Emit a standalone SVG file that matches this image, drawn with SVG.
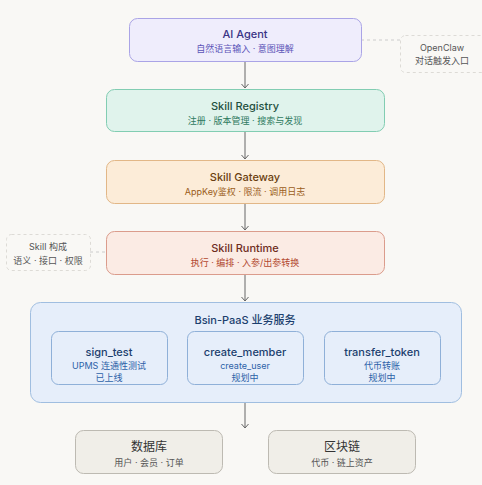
<svg xmlns="http://www.w3.org/2000/svg" width="482" height="485" viewBox="0 0 482 485">
<style>
text{font-family:Inter,"Noto Sans","Noto Sans CJK SC",sans-serif;text-anchor:middle}
.t{font-size:11px;font-weight:500}
.s{font-size:9px}
.n{font-size:9px;fill:#555}
.d{font-size:12px;fill:#333}
.line{stroke:#666;stroke-width:1;fill:none}
.dash{stroke:#ccc;stroke-width:1;fill:none;stroke-dasharray:3 3}
</style>
<defs>
<marker id="ah" markerWidth="10" markerHeight="10" refX="4" refY="5" orient="auto" markerUnits="userSpaceOnUse">
<path d="M0,1.5 L4,5 L0,8.5" fill="none" stroke="#666" stroke-width="1"/>
</marker>
</defs>
<rect width="482" height="485" fill="#f9f8f5"/>
<g id="connectors">
<line class="line" x1="245" y1="61" x2="245" y2="88" marker-end="url(#ah)"/>
<line class="line" x1="245" y1="131" x2="245" y2="159" marker-end="url(#ah)"/>
<line class="line" x1="245" y1="203" x2="245" y2="230" marker-end="url(#ah)"/>
<line class="line" x1="245" y1="274" x2="245" y2="301" marker-end="url(#ah)"/>
<line class="line" x1="245" y1="402" x2="245" y2="428" marker-end="url(#ah)"/>
<line class="dash" x1="361" y1="40" x2="400" y2="40"/>
<line class="dash" x1="90" y1="252" x2="106" y2="252"/>
</g>
<g id="ai-agent">
<rect x="129.5" y="18.5" width="232" height="43" rx="8" fill="#efedfc" stroke="#aaa4e6"/>
<text class="t" x="245" y="38" fill="#3a3485">AI Agent</text>
<text class="s" x="245" y="52" fill="#5b54b8">自然语言输入 · 意图理解</text>
</g>
<g id="openclaw">
<rect x="400.5" y="35.5" width="90" height="37" rx="5" fill="none" stroke="#dddbd6" stroke-dasharray="3 3"/>
<text class="n" x="442" y="51">OpenClaw</text>
<text class="n" x="442" y="64">对话触发入口</text>
</g>
<g id="skill-registry">
<rect x="106.5" y="89.5" width="278" height="42" rx="8" fill="#e0f3ec" stroke="#82cdb2"/>
<text class="t" x="245" y="110" fill="#1f4f40">Skill Registry</text>
<text class="s" x="245" y="124" fill="#2f7a60">注册 · 版本管理 · 搜索与发现</text>
</g>
<g id="skill-gateway">
<rect x="106.5" y="160.5" width="278" height="43" rx="8" fill="#fcecd8" stroke="#e2b787"/>
<text class="t" x="245" y="181" fill="#6b3f10">Skill Gateway</text>
<text class="s" x="245" y="195" fill="#9a5c1a">AppKey鉴权 · 限流 · 调用日志</text>
</g>
<g id="skill-composition">
<rect x="6.5" y="234.5" width="84" height="36" rx="5" fill="none" stroke="#dddbd6" stroke-dasharray="3 3"/>
<text class="n" x="48" y="250">Skill 构成</text>
<text class="n" x="48" y="264">语义 · 接口 · 权限</text>
</g>
<g id="skill-runtime">
<rect x="106.5" y="231.5" width="278" height="43" rx="8" fill="#fbebe4" stroke="#db9c8c"/>
<text class="t" x="245" y="252" fill="#6e2d1e">Skill Runtime</text>
<text class="s" x="245" y="266" fill="#b2482f">执行 · 编排 · 入参/出参转换</text>
</g>
<g id="bsin-paas">
<rect x="30.5" y="302.5" width="431" height="100" rx="10" fill="#e6eefa" stroke="#a0bee0"/>
<text class="t" x="245" y="324" fill="#1c3f6e">Bsin-PaaS 业务服务</text>
</g>
<g id="sign-test">
<rect x="51.5" y="331.5" width="116" height="53" rx="7" fill="#e6eefa" stroke="#8fb0d8"/>
<text class="t" x="109" y="356" fill="#1c3f6e">sign_test</text>
<text class="s" x="109" y="369" fill="#2d62a8">UPMS 连通性测试</text>
<text class="s" x="109" y="381" fill="#2d62a8">已上线</text>
</g>
<g id="create-member">
<rect x="187.5" y="331.5" width="116" height="53" rx="7" fill="#e6eefa" stroke="#8fb0d8"/>
<text class="t" x="245" y="356" fill="#1c3f6e">create_member</text>
<text class="s" x="245" y="369" fill="#2d62a8">create_user</text>
<text class="s" x="245" y="381" fill="#2d62a8">规划中</text>
</g>
<g id="transfer-token">
<rect x="324.5" y="331.5" width="116" height="53" rx="7" fill="#e6eefa" stroke="#8fb0d8"/>
<text class="t" x="382" y="356" fill="#1c3f6e">transfer_token</text>
<text class="s" x="382" y="369" fill="#2d62a8">代币转账</text>
<text class="s" x="382" y="381" fill="#2d62a8">规划中</text>
</g>
<g id="database">
<rect x="75.5" y="430.5" width="147" height="43" rx="8" fill="#f0eee8" stroke="#bdbab2"/>
<text class="d" x="149" y="451">数据库</text>
<text class="s" x="149" y="466" fill="#555">用户 · 会员 · 订单</text>
</g>
<g id="blockchain">
<rect x="268.5" y="430.5" width="147" height="43" rx="8" fill="#f0eee8" stroke="#bdbab2"/>
<text class="d" x="342" y="451">区块链</text>
<text class="s" x="342" y="466" fill="#555">代币 · 链上资产</text>
</g>
</svg>
